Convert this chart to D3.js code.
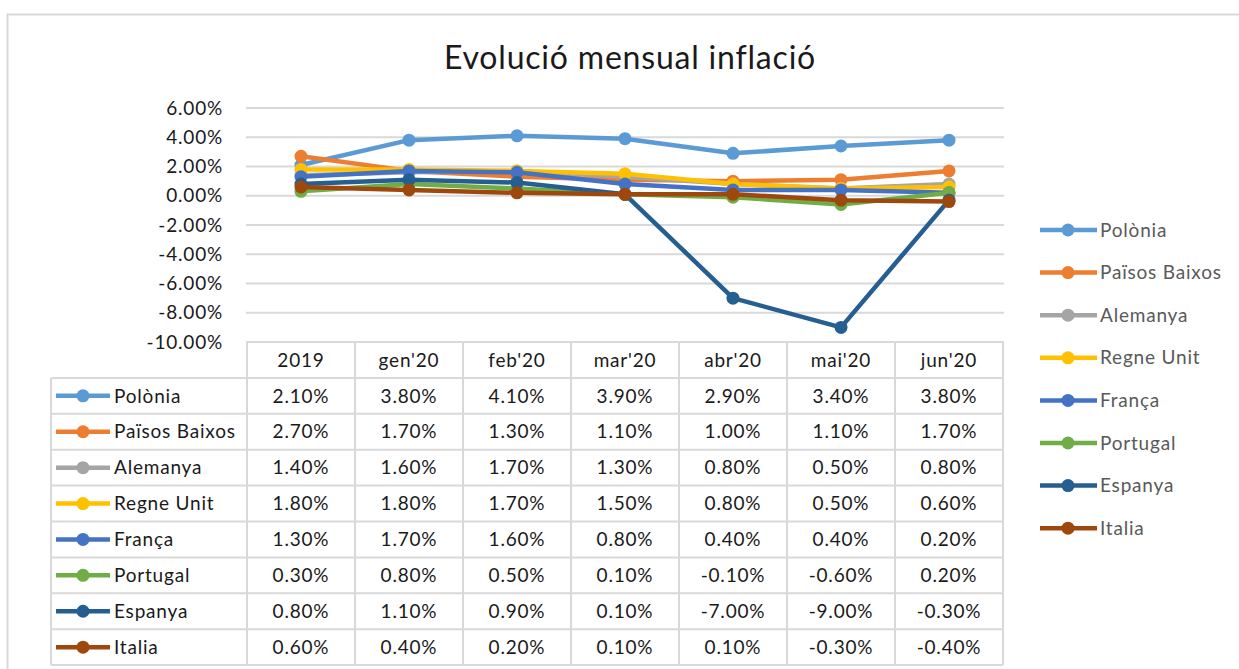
<!DOCTYPE html>
<html>
<head>
<meta charset="utf-8">
<script src="https://cdn.jsdelivr.net/npm/d3@7"></script>
<style>
  body { margin: 0; background: #fff; }
  svg { display: block; font-family: Lato, "Open Sans", sans-serif; }
</style>
</head>
<body>
<svg id="chart" width="1239" height="669"></svg>
<script>
const categories = ["2019", "gen'20", "feb'20", "mar'20", "abr'20", "mai'20", "jun'20"];
const seriesNames = ["Polònia", "Països Baixos", "Alemanya", "Regne Unit", "França", "Portugal", "Espanya", "Italia"];
const seriesColors = ["#5B9BD5", "#ED7D31", "#A5A5A5", "#FFC000", "#4472C4", "#70AD47", "#255E91", "#9E480E"];
const polonia = [0.021, 0.038, 0.041, 0.039, 0.029, 0.034, 0.038];
const paisosBaixos = [0.027, 0.017, 0.013, 0.011, 0.010, 0.011, 0.017];
const alemanya = [0.014, 0.016, 0.017, 0.013, 0.008, 0.005, 0.008];
const regneUnit = [0.018, 0.018, 0.017, 0.015, 0.008, 0.005, 0.006];
const franca = [0.013, 0.017, 0.016, 0.008, 0.004, 0.004, 0.002];
const portugal = [0.003, 0.008, 0.005, 0.001, -0.001, -0.006, 0.002];
const espanya = [0.008, 0.011, 0.009, 0.001, -0.070, -0.090, -0.003];
const italia = [0.006, 0.004, 0.002, 0.001, 0.001, -0.003, -0.004];
const yTicks = [0.06, 0.04, 0.02, 0, -0.02, -0.04, -0.06, -0.08, -0.10];

const series = [polonia, paisosBaixos, alemanya, regneUnit, franca, portugal, espanya, italia]
  .map((values, i) => ({ name: seriesNames[i], color: seriesColors[i], values }));

const GRID = '#d9d9d9';
const TEXT = '#1a1a1a';
const SPACING = '0.8px';

const svg = d3.select('#chart');

// outer chart border
svg.append('rect')
  .attr('x', 7.5).attr('y', 14.5)
  .attr('width', 1260).attr('height', 700)
  .attr('fill', 'none').attr('stroke', GRID).attr('stroke-width', 2);

svg.append('text')
  .attr('x', 630).attr('y', 69)
  .attr('text-anchor', 'middle')
  .attr('font-size', 32)
  .attr('letter-spacing', SPACING)
  .attr('fill', TEXT)
  .text('Evolució mensual inflació');

const x = d3.scaleBand().domain(categories).range([247, 1003]);
const y = d3.scaleLinear().domain([-0.10, 0.06]).range([342, 108]);
const fmt = d3.formatLocale({ decimal: '.', thousands: ',', grouping: [3], currency: ['', ''], minus: '-' }).format('.2%');

// horizontal gridlines
svg.append('g')
  .selectAll('line').data(yTicks).join('line')
  .attr('x1', 246).attr('x2', 1004)
  .attr('y1', d => y(d)).attr('y2', d => y(d))
  .attr('stroke', GRID).attr('stroke-width', 2);

// y axis labels
svg.append('g')
  .selectAll('text').data(yTicks).join('text')
  .attr('x', 223).attr('y', d => y(d))
  .attr('dy', '0.35em')
  .attr('text-anchor', 'end')
  .attr('font-size', 19)
  .attr('letter-spacing', SPACING)
  .attr('fill', TEXT)
  .text(d => fmt(d));

// series lines and markers
const line = d3.line()
  .x((d, i) => x(categories[i]) + x.bandwidth() / 2)
  .y(d => y(d));

const seriesG = svg.append('g').selectAll('g').data(series).join('g');
seriesG.append('path')
  .attr('d', d => line(d.values))
  .attr('fill', 'none')
  .attr('stroke', d => d.color)
  .attr('stroke-width', 4.5)
  .attr('stroke-linejoin', 'round');
seriesG.selectAll('circle')
  .data(d => d.values.map((v, i) => ({ v, i, color: d.color })))
  .join('circle')
  .attr('cx', d => x(categories[d.i]) + x.bandwidth() / 2)
  .attr('cy', d => y(d.v))
  .attr('r', 6.5)
  .attr('fill', d => d.color);

// data table
const rowH = 35.9;
const tableTop = 342;
const legendLeft = 51;
const table = svg.append('g');

const tableRow = i => tableTop + rowH * (i + 1);

// header cells
table.selectAll('text.head').data(categories).join('text')
  .attr('class', 'head')
  .attr('x', d => x(d) + x.bandwidth() / 2)
  .attr('y', tableTop + rowH / 2)
  .attr('dy', '0.35em')
  .attr('text-anchor', 'middle')
  .attr('font-size', 19)
  .attr('letter-spacing', SPACING)
  .attr('fill', TEXT)
  .text(d => d);

// horizontal table lines
const hLines = d3.range(series.length + 1).map(i => tableRow(i));
table.selectAll('line.h').data(hLines).join('line')
  .attr('class', 'h')
  .attr('x1', legendLeft).attr('x2', 1003)
  .attr('y1', d => d).attr('y2', d => d)
  .attr('stroke', GRID).attr('stroke-width', 2);
table.append('line')
  .attr('x1', 246).attr('x2', 1003)
  .attr('y1', tableTop).attr('y2', tableTop)
  .attr('stroke', GRID).attr('stroke-width', 2);

// vertical table lines
const vLines = categories.map(c => x(c)).concat([x.range()[1]]);
table.selectAll('line.v').data(vLines).join('line')
  .attr('class', 'v')
  .attr('x1', d => d).attr('x2', d => d)
  .attr('y1', tableTop).attr('y2', tableRow(series.length))
  .attr('stroke', GRID).attr('stroke-width', 2);
table.append('line')
  .attr('x1', legendLeft).attr('x2', legendLeft)
  .attr('y1', tableRow(0)).attr('y2', tableRow(series.length))
  .attr('stroke', GRID).attr('stroke-width', 2);

const rows = table.selectAll('g.row').data(series).join('g')
  .attr('class', 'row')
  .attr('transform', (d, i) => `translate(0,${tableRow(i) + rowH / 2})`);

rows.append('line')
  .attr('x1', 56).attr('x2', 110)
  .attr('stroke', d => d.color).attr('stroke-width', 4.5);
rows.append('circle')
  .attr('cx', 83).attr('r', 6.5)
  .attr('fill', d => d.color);
rows.append('text')
  .attr('x', 114).attr('dy', '0.35em')
  .attr('font-size', 19)
  .attr('letter-spacing', SPACING)
  .attr('fill', TEXT)
  .text(d => d.name);
rows.selectAll('text.val')
  .data(d => d.values)
  .join('text')
  .attr('class', 'val')
  .attr('x', (d, i) => x(categories[i]) + x.bandwidth() / 2)
  .attr('dy', '0.35em')
  .attr('text-anchor', 'middle')
  .attr('font-size', 19)
  .attr('letter-spacing', SPACING)
  .attr('fill', TEXT)
  .text(d => fmt(d));

// right legend
const legend = svg.append('g').selectAll('g').data(series).join('g')
  .attr('transform', (d, i) => `translate(1040,${230 + i * 42.6})`);
legend.append('line')
  .attr('x1', 0).attr('x2', 57)
  .attr('stroke', d => d.color).attr('stroke-width', 4.5);
legend.append('circle')
  .attr('cx', 28).attr('r', 6.5)
  .attr('fill', d => d.color);
legend.append('text')
  .attr('x', 60).attr('dy', '0.35em')
  .attr('font-size', 19)
  .attr('letter-spacing', SPACING)
  .attr('fill', '#595959')
  .text(d => d.name);
</script>
</body>
</html>
